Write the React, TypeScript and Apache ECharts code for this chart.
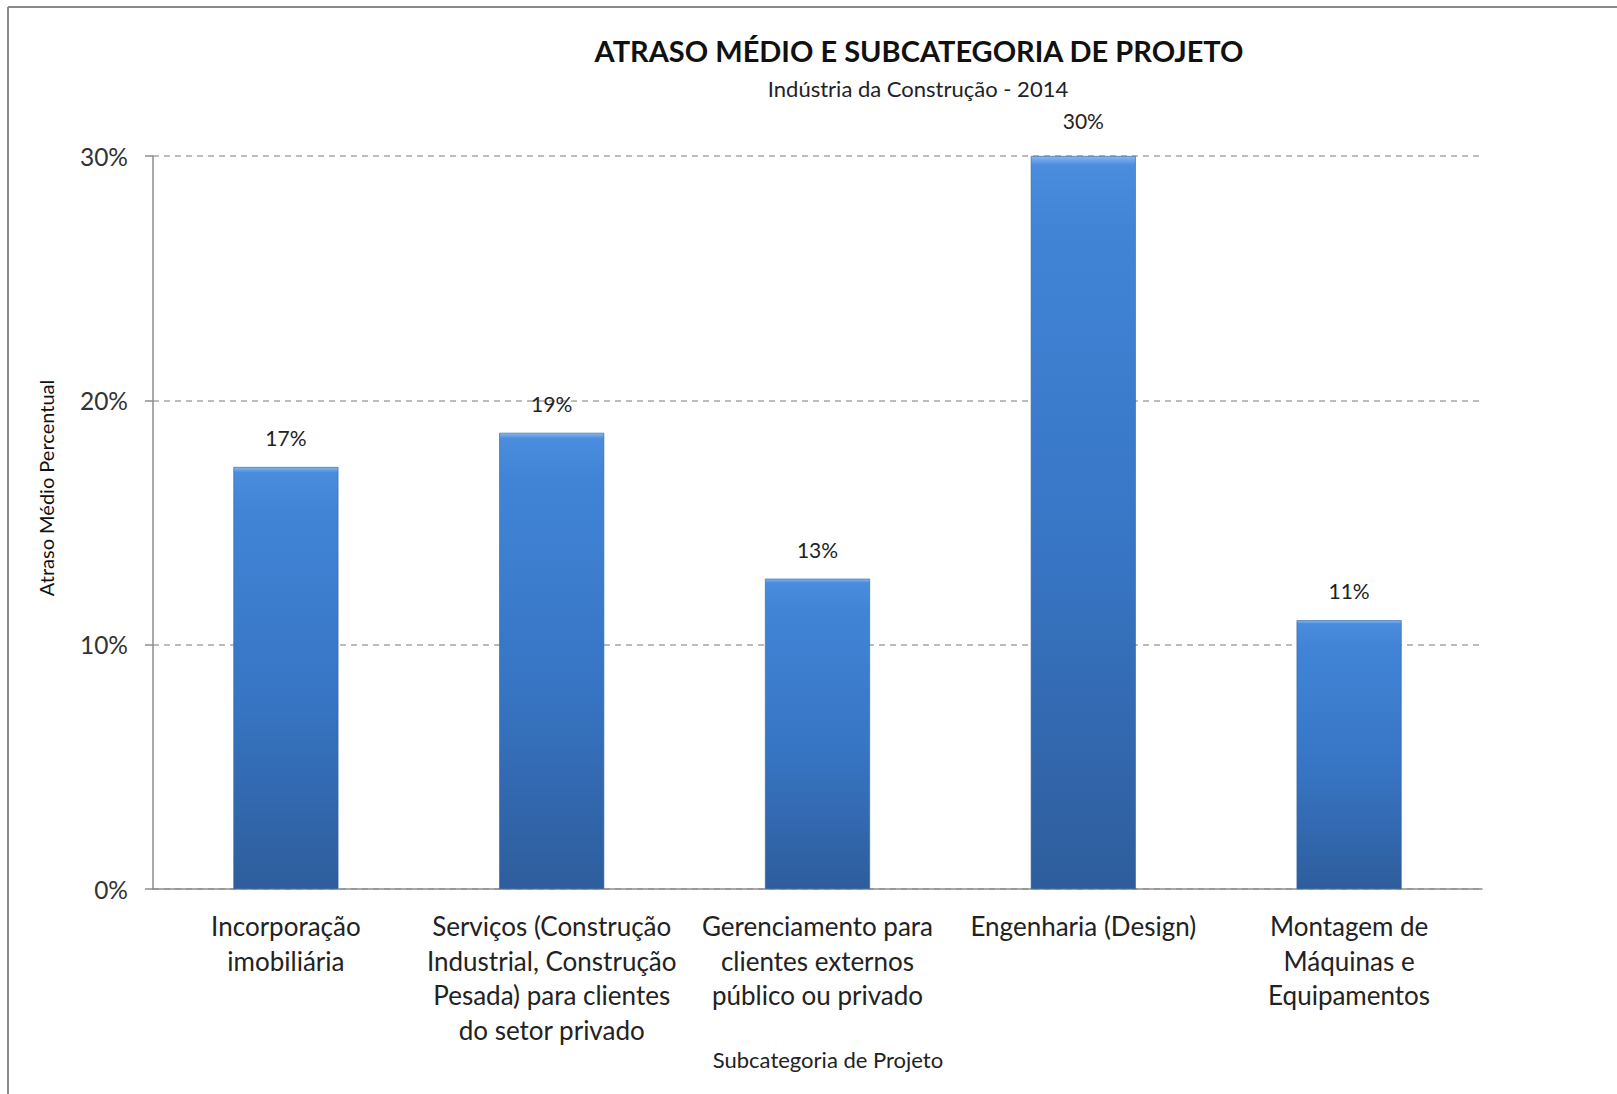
import React, { useEffect, useRef } from "react";
import * as echarts from "echarts";

const categories = [
  "Incorporação\nimobiliária",
  "Serviços (Construção\nIndustrial, Construção\nPesada) para clientes\ndo setor privado",
  "Gerenciamento para\nclientes externos\npúblico ou privado",
  "Engenharia (Design)",
  "Montagem de\nMáquinas e\nEquipamentos",
];
const values = [0.1727, 0.1867, 0.127, 0.30, 0.11];
const yTicks = [0, 0.1, 0.2, 0.3];
const titleText = "ATRASO MÉDIO E SUBCATEGORIA DE PROJETO";
const subtitleText = "Indústria da Construção - 2014";
const yName = "Atraso Médio Percentual";
const xName = "Subcategoria de Projeto";

const FONT = "Lato, 'Open Sans', sans-serif";

export default function App() {
  const ref = useRef<HTMLDivElement>(null);
  useEffect(() => {
    if (!ref.current) return;
    const chart = echarts.init(ref.current, undefined, { renderer: "svg" });
    const barColor = new echarts.graphic.LinearGradient(0, 0, 0, 1, [
      { offset: 0, color: "#86b8ee" },
      { offset: 0.012, color: "#4a8ddd" },
      { offset: 0.1, color: "#4184d6" },
      { offset: 0.55, color: "#3775c4" },
      { offset: 1, color: "#2e5d9c" },
    ]);
    const maxVal = Math.max(...values);
    chart.setOption({
      animation: false,
      backgroundColor: "#ffffff",
      textStyle: { fontFamily: FONT },
      grid: { left: 153, right: 135, top: 156, bottom: 205, containLabel: false },
      xAxis: {
        type: "category",
        data: categories,
        axisLine: { lineStyle: { color: "#8c8c8c", width: 1.5 } },
        axisTick: { show: false },
        axisLabel: {
          interval: 0,
          color: "#222",
          fontSize: 26,
          lineHeight: 34.5,
          margin: 20,
          fontFamily: FONT,
        },
      },
      yAxis: {
        type: "value",
        min: 0,
        max: 0.3,
        interval: 0.1,
        axisLine: { show: true, lineStyle: { color: "#8c8c8c", width: 1.5 } },
        axisTick: { show: true, length: 8, lineStyle: { color: "#8c8c8c", width: 1.5 } },
        axisLabel: {
          color: "#333",
          fontSize: 24.5,
          margin: 25,
          fontFamily: FONT,
          formatter: (v: number) =>
            yTicks.some((t) => Math.abs(t - v) < 1e-9) ? Math.round(v * 100) + "%" : "",
        },
        splitLine: {
          show: true,
          lineStyle: { color: "#a6a6a6", type: [6, 5], width: 1.5 },
        },
      },
      series: [
        {
          type: "bar",
          data: values.map((v) =>
            v === maxVal ? { value: v, label: { distance: 25 } } : v
          ),
          barWidth: 105,
          itemStyle: { color: barColor, borderColor: "#2f61a3", borderWidth: 0.6 },
          label: {
            show: true,
            position: "top",
            distance: 19,
            color: "#222",
            fontSize: 21,
            fontFamily: FONT,
            formatter: (p: any) => Math.round(p.value * 100) + "%",
          },
        },
      ],
      graphic: [
        {
          type: "line",
          shape: { x1: 8, y1: 7, x2: 1617, y2: 7 },
          style: { stroke: "#8a8a8a", lineWidth: 2 },
        },
        {
          type: "line",
          shape: { x1: 8, y1: 7, x2: 8, y2: 1094 },
          style: { stroke: "#8a8a8a", lineWidth: 2 },
        },
        {
          type: "text",
          x: 919,
          y: 50,
          style: {
            text: titleText,
            font: `bold 29px ${FONT}`,
            fill: "#111",
            textAlign: "center",
            textVerticalAlign: "middle",
          },
        },
        {
          type: "text",
          x: 918,
          y: 88,
          style: {
            text: subtitleText,
            font: `22px ${FONT}`,
            fill: "#222",
            textAlign: "center",
            textVerticalAlign: "middle",
          },
        },
        {
          type: "text",
          x: 46,
          y: 488,
          rotation: Math.PI / 2,
          style: {
            text: yName,
            font: `20px ${FONT}`,
            fill: "#111",
            textAlign: "center",
            textVerticalAlign: "middle",
          },
        },
        {
          type: "text",
          x: 828,
          y: 1059,
          style: {
            text: xName,
            font: `22px ${FONT}`,
            fill: "#222",
            textAlign: "center",
            textVerticalAlign: "middle",
          },
        },
      ],
    });
    return () => chart.dispose();
  }, []);
  return (
    <div
      ref={ref}
      style={{ position: "fixed", left: 0, top: 0, width: 1617, height: 1094 }}
    />
  );
}
